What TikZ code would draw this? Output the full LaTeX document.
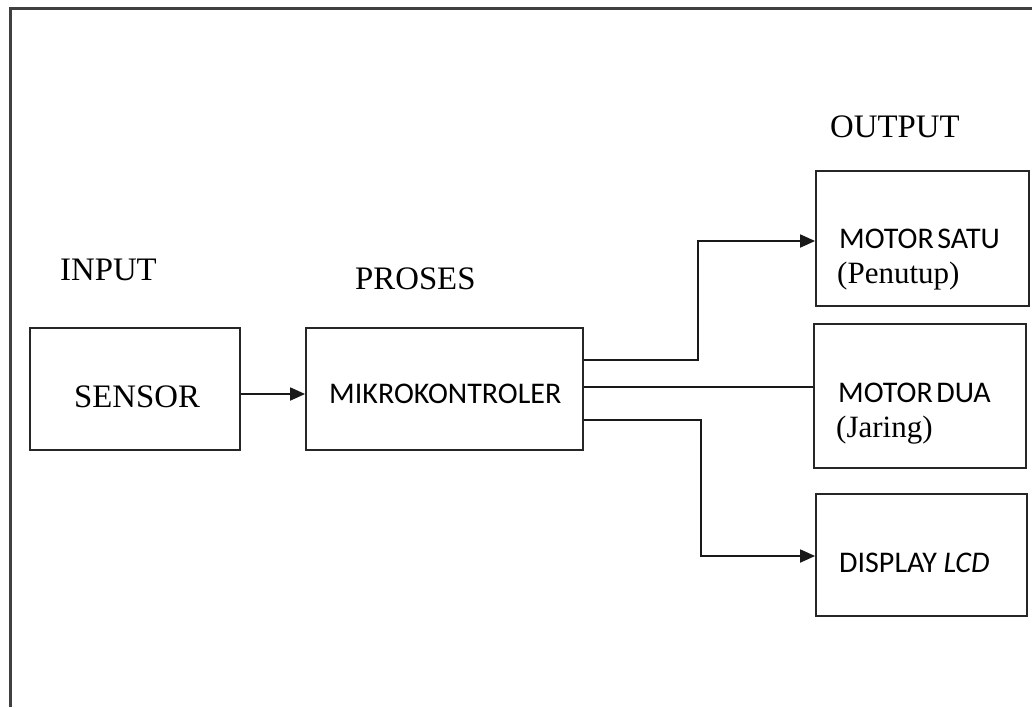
\documentclass[tikz,border=0pt]{standalone}
\usepackage{fontspec}
\setmainfont{Liberation Serif}
\newfontfamily\calib{Carlito}
\usetikzlibrary{arrows.meta}
\begin{document}
\begin{tikzpicture}[x=1pt,y=-1pt,
  blk/.style={draw=black!85,line width=1.8pt,minimum width=#1,inner sep=0pt},
  ser/.style={font=\fontsize{32.8}{36}\selectfont,anchor=base west,inner sep=0pt},
  san/.style={font=\calib\fontsize{30}{34}\selectfont,anchor=base west,inner sep=0pt},
  con/.style={line width=1.8pt,black!90},
  arr/.style={con,-{Triangle[length=15pt,width=13pt]}}]
\useasboundingbox (0,0) rectangle (1032,707);
\fill[white] (0,0) rectangle (1032,707);
% frame
\draw[line width=3pt,black!75] (10,707) -- (10,8) -- (1032,8);
% boxes
\node[blk=210pt,minimum height=122pt] (sensor) at (135,389) {};
\node[blk=277pt,minimum height=122pt] (mikro) at (444.5,389) {};
\node[blk=213pt,minimum height=135pt] (satu) at (922.5,238.5) {};
\node[blk=212pt,minimum height=144pt] (dua) at (920,396) {};
\node[blk=211pt,minimum height=122pt] (lcd) at (921.5,555) {};
% headings
\node[ser] (tin) at (60,280) {INPUT};
\node[ser] (tpr) at (355,289) {PROSES};
\node[ser] (tout) at (830,137) {OUTPUT};
% box texts
\node[ser] (tsen) at (74,407) {SENSOR};
\node[san] (tmik) at (329,403) {MIKROKONTROLER};
\node[san] (tsat) at (839,248) {MOTOR\hspace{0.12em}SATU};
\node[ser,font=\fontsize{31}{36}\selectfont] (tpen) at (837,283) {(Penutup)};
\node[san] (tdua) at (838,402) {MOTOR\hspace{0.12em}DUA};
\node[ser,font=\fontsize{31}{36}\selectfont] (tjar) at (836,437) {(Jaring)};
\node[san] (tlcd) at (839,572) {DISPLAY \textit{LCD}};
% connectors
\coordinate (a1) at (698,360);
\coordinate (a2) at (701,420);
\draw[arr] (sensor.east |- 0,394) -- (mikro.west |- 0,394);
\draw[arr] (mikro.east |- a1) -- (a1) |- (satu.west |- 0,241);
\draw[con] (mikro.east |- 0,387) -- (dua.west |- 0,387);
\draw[arr] (mikro.east |- a2) -- (a2) |- (lcd.west |- 0,556);
\end{tikzpicture}
\end{document}
